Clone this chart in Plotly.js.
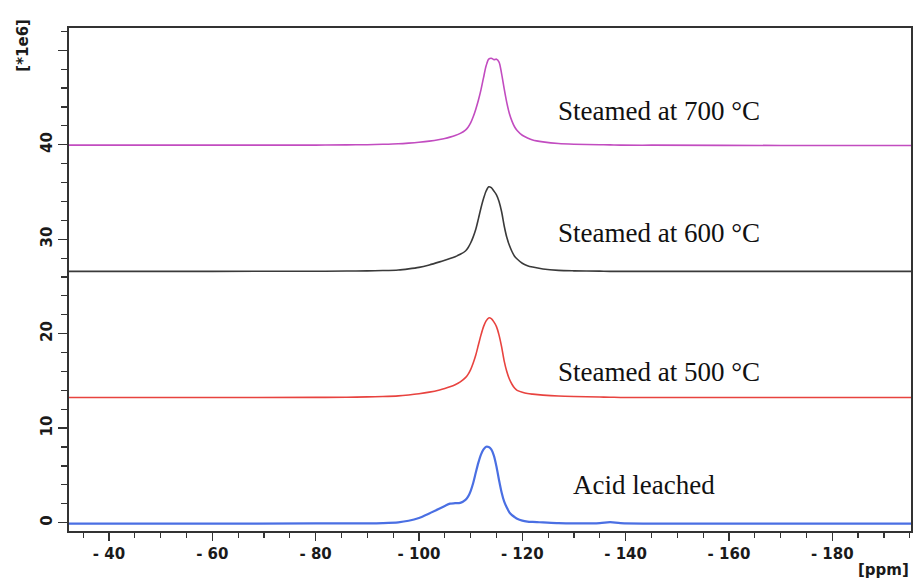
<!DOCTYPE html>
<html>
<head>
<meta charset="utf-8">
<script src="https://cdn.plot.ly/plotly-3.0.1.min.js"></script>
<style>
  html, body { margin: 0; padding: 0; background: #fff; }
  #chart { width: 921px; height: 578px; }
</style>
</head>
<body>
<div id="chart"></div>
<script>
// Chemical shift grid (ppm) shared by the four 29Si spectra
const ppm = [-32, -60, -80, -86, -90, -93, -96, -98, -100, -102,
  -104, -105, -106, -107, -108, -109, -109.5, -110, -110.5, -111,
  -111.5, -112, -112.5, -113, -113.5, -114, -114.5, -115, -115.5, -116,
  -116.5, -117, -117.5, -118, -118.5, -119, -120, -121, -122, -124,
  -127, -130, -135, -137, -139, -145, -170, -196];

// Intensities (x1e6), each spectrum stacked with its own offset
const steamed700 = [39.95, 39.95, 39.96, 39.98, 40.0, 40.04, 40.1, 40.17, 40.26, 40.38,
  40.55, 40.66, 40.8, 40.97, 41.2, 41.55, 41.85, 42.3, 42.95, 43.75,
  44.7, 45.8, 47.1, 48.35, 49.05, 49.15, 49.0, 49.05, 48.75, 47.5,
  45.9, 44.45, 43.3, 42.5, 41.9, 41.5, 41.0, 40.72, 40.5, 40.3,
  40.12, 40.05, 40.0, 39.98, 39.95, 39.95, 39.92, 39.92];

const steamed600 = [26.6, 26.6, 26.61, 26.63, 26.65, 26.68, 26.74, 26.86, 27.02, 27.28,
  27.6, 27.77, 27.95, 28.15, 28.4, 28.75, 29.1, 29.6, 30.25, 31.05,
  32.15, 33.3, 34.3, 35.1, 35.55, 35.45, 35.1, 34.7, 34.0, 32.9,
  31.4, 30.2, 29.35, 28.7, 28.2, 27.9, 27.45, 27.2, 27.05, 26.85,
  26.7, 26.65, 26.62, 26.6, 26.6, 26.6, 26.6, 26.6];

const steamed500 = [13.25, 13.25, 13.26, 13.28, 13.31, 13.35, 13.42, 13.52, 13.65, 13.82,
  14.05, 14.2, 14.38, 14.6, 14.9, 15.35, 15.7, 16.2, 16.9, 17.75,
  18.8, 19.85, 20.75, 21.35, 21.67, 21.6, 21.25, 20.75, 19.85, 18.6,
  17.1, 16.0, 15.2, 14.65, 14.25, 14.0, 13.8, 13.67, 13.6, 13.5,
  13.4, 13.35, 13.3, 13.28, 13.25, 13.25, 13.25, 13.25];

const acidLeached = [-0.1, -0.1, -0.08, -0.08, -0.07, -0.04, 0.04, 0.2, 0.5, 0.98,
  1.5, 1.77, 2.02, 2.06, 2.1, 2.42, 2.75, 3.35, 4.2, 5.3,
  6.35, 7.2, 7.75, 8.03, 8.0, 7.75, 7.1, 5.95, 4.5, 3.2,
  2.22, 1.6, 1.1, 0.8, 0.6, 0.42, 0.22, 0.12, 0.08, 0.03,
  -0.05, -0.08, -0.05, 0.05, -0.05, -0.1, -0.1, -0.1];

const seriesNames = ['Steamed at 700 °C', 'Steamed at 600 °C', 'Steamed at 500 °C', 'Acid leached'];
const seriesColors = ['#c24cc0', '#3a3a3a', '#e8433f', '#4a6fe3'];
const seriesWidths = [1.6, 1.6, 1.6, 2.2];
const seriesValues = [steamed700, steamed600, steamed500, acidLeached];

// Label placement (ppm, intensity) for each spectrum
const labelX = [-126.6, -126.6, -126.6, -129.5];
const labelY = [43.6, 30.7, 15.9, 4.0];

const xTickVals = [-40, -60, -80, -100, -120, -140, -160, -180];
const xTickText = ['- 40', '- 60', '- 80', '- 100', '- 120', '- 140', '- 160', '- 180'];
const yTickVals = [0, 10, 20, 30, 40, 50];
const yTickText = ['0', '10', '20', '30', '40', ''];

const traces = seriesValues.map((vals, i) => ({
  type: 'scatter',
  mode: 'lines',
  x: ppm,
  y: vals,
  name: seriesNames[i],
  line: { color: seriesColors[i], width: seriesWidths[i], shape: 'spline', smoothing: 0.8 },
  hoverinfo: 'x+y'
}));

const boldFont = (size) => ({ family: 'DejaVu Sans', size: size, color: '#1a1a1a', weight: 'bold' });

const annotations = seriesNames.map((name, i) => ({
  xref: 'x', yref: 'y',
  x: labelX[i], y: labelY[i],
  text: name,
  showarrow: false,
  xanchor: 'left', yanchor: 'middle',
  font: { family: 'Liberation Serif, Times New Roman, serif', size: 27, color: '#111' }
}));

annotations.push({
  xref: 'paper', yref: 'paper',
  x: 1, y: -0.078,
  text: '[ppm]',
  showarrow: false,
  xanchor: 'right', yanchor: 'middle',
  font: boldFont(15)
});
annotations.push({
  xref: 'paper', yref: 'paper',
  x: -0.054, y: 0.966,
  text: '[*1e6]',
  textangle: -90,
  showarrow: false,
  xanchor: 'center', yanchor: 'middle',
  font: boldFont(15)
});

const layout = {
  width: 921,
  height: 578,
  margin: { l: 69, r: 10, t: 28, b: 47 },
  paper_bgcolor: '#ffffff',
  plot_bgcolor: '#ffffff',
  showlegend: false,
  xaxis: {
    range: [-32.26, -195.24],
    tickmode: 'array',
    tickvals: xTickVals,
    ticktext: xTickText,
    ticks: 'outside',
    ticklen: 8,
    tickwidth: 1.4,
    tickcolor: '#333',
    minor: { dtick: 5, tick0: 0, ticks: 'outside', ticklen: 5, tickwidth: 1.2, tickcolor: '#333' },
    showline: true,
    linecolor: '#333',
    linewidth: 1.6,
    mirror: true,
    showgrid: false,
    zeroline: false,
    tickfont: boldFont(15)
  },
  yaxis: {
    range: [-0.88, 52.35],
    tickmode: 'array',
    tickvals: yTickVals,
    ticktext: yTickText,
    tickangle: -90,
    ticks: 'outside',
    ticklen: 9,
    tickwidth: 1.4,
    tickcolor: '#333',
    minor: { dtick: 2, tick0: 0, ticks: 'outside', ticklen: 6, tickwidth: 1.2, tickcolor: '#333' },
    showline: true,
    linecolor: '#333',
    linewidth: 1.6,
    mirror: true,
    showgrid: false,
    zeroline: false,
    tickfont: boldFont(15)
  },
  annotations: annotations
};

Plotly.newPlot('chart', traces, layout, { displayModeBar: false, staticPlot: true });
</script>
</body>
</html>
